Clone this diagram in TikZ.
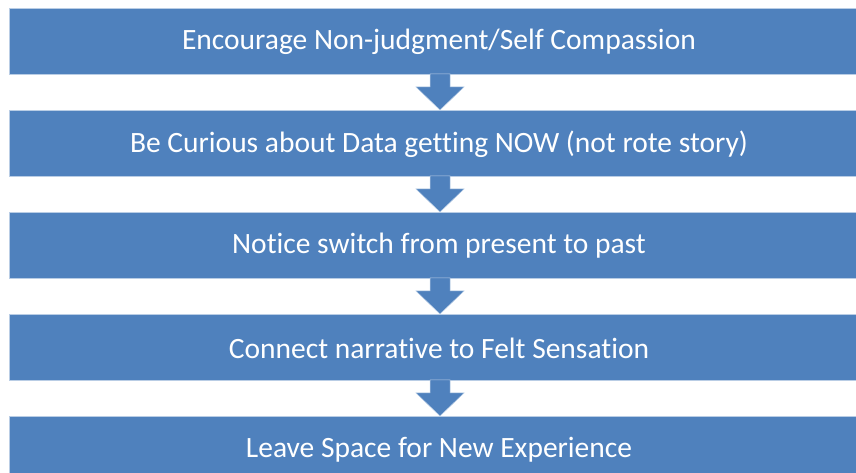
\documentclass[tikz,border=0pt]{standalone}
\usepackage{fontspec}
\setmainfont{Carlito}[Ligatures=NoCommon]
\usetikzlibrary{calc}
\begin{document}
\begin{tikzpicture}[x=1pt,y=1pt,
  stepbox/.style={fill=flowblue, draw=flowedge, line width=0.8pt},
  steptext/.style={text=white, font=\fontsize{29.5}{32}\selectfont, inner sep=0pt},
  downarrow/.style={fill=flowblue, draw=flowedge, line width=0.5pt}]
\definecolor{flowblue}{HTML}{4F81BD}
\definecolor{flowedge}{HTML}{B9CDE5}
\useasboundingbox (0,0) rectangle (856,473);
\clip (0,0) rectangle (856,473);
% five stacked step bars, 66pt tall, 102pt apart
\foreach \i/\lbl in {0/{Encourage Non-judgment/Self Compassion},
                     1/{Be Curious about Data getting NOW (not rote story)},
                     2/{Notice switch from present to past},
                     3/{Connect narrative to Felt Sensation},
                     4/{Leave Space for New Experience}} {
  \pgfmathsetmacro{\ytop}{473-8-102*\i}
  \draw[stepbox] (9,\ytop) rectangle (870,\ytop-66);
  \node[steptext] (s\i) at (439,\ytop-34) {\lbl};
  \coordinate (b\i) at (440,\ytop-66);
}
% block arrows between consecutive bars
\foreach \i in {0,1,2,3} {
  \draw[downarrow] ($(b\i)+(-10,0)$) -- ++(0,-13) -- ++(-14,0) -- ($(b\i)+(0,-36)$)
    -- ($(b\i)+(24,-13)$) -- ++(-14,0) -- ($(b\i)+(10,0)$) -- cycle;
}
\end{tikzpicture}
\end{document}
